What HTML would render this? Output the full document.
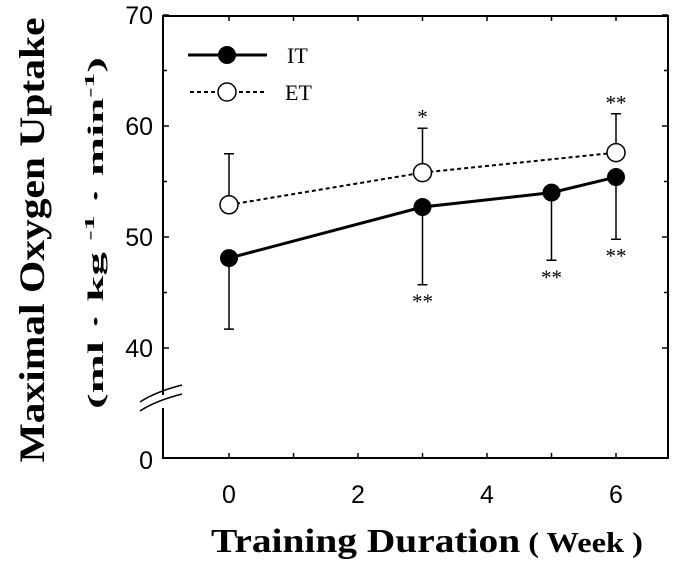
<!DOCTYPE html>
<html><head><meta charset="utf-8"><style>
body{margin:0;background:#fff}
svg{display:block;font-family:"Liberation Sans",sans-serif}
</style></head><body>
<svg id="chart" width="685" height="562" viewBox="0 0 685 562">
<g id="axes"></g><g id="series"></g>
<text x="44" y="240" transform="rotate(-90 44 240)" text-anchor="middle" font-family="Liberation Serif" font-weight="bold" font-size="36" textLength="445" lengthAdjust="spacingAndGlyphs">Maximal Oxygen Uptake</text>
<text x="103" y="233" transform="rotate(-90 103 233)" text-anchor="middle" font-family="Liberation Serif" font-weight="bold" font-size="22" textLength="352" lengthAdjust="spacingAndGlyphs">(ml · kg <tspan font-size="14" dy="-9">-1</tspan><tspan dy="9"> · min</tspan><tspan font-size="14" dy="-9">-1</tspan><tspan dy="9">)</tspan></text>
<text x="427" y="552" text-anchor="middle" font-family="Liberation Serif" font-weight="bold" font-size="34" textLength="432" lengthAdjust="spacingAndGlyphs">Training Duration<tspan font-size="28"> ( Week )</tspan></text>
<g>
<line x1="188" y1="55" x2="267" y2="55" stroke="#000" stroke-width="3"/>
<circle cx="227" cy="55" r="9" fill="#000"/>
<text x="287" y="63" font-family="Liberation Serif" font-size="22">IT</text>
<line x1="190" y1="92" x2="267" y2="92" stroke="#000" stroke-width="2" stroke-dasharray="4,3"/>
<circle cx="227" cy="92" r="9" fill="#fff" stroke="#000" stroke-width="1.5"/>
<text x="285" y="100" font-family="Liberation Serif" font-size="22">ET</text>
</g>
</svg>
<script>
const weeksIT=[0,3,5,6];
const valuesIT=[48.1,52.7,54.0,55.4];
const errIT=[6.4,7.0,6.1,5.6];
const sigIT=["","**","**","**"];
const weeksET=[0,3,6];
const valuesET=[52.9,55.8,57.6];
const errET=[4.6,4.0,3.5];
const sigET=["","*","**"];
const yTicks=[40,50,60,70];
const xTicks=[0,2,4,6];
const NS="http://www.w3.org/2000/svg";
const L=163,R=668,T=16,B=458;
function xs(w){return 229+w*64.5;}
function ys(v){return 348-(v-40)*11.1;}
function mk(p,tag,at){const e=document.createElementNS(NS,tag);for(const k in at)e.setAttribute(k,at[k]);p.appendChild(e);return e;}
const ax=document.getElementById('axes'),se=document.getElementById('series');
const st={stroke:'#000','stroke-width':2,fill:'none'};
let f=mk(ax,'path',Object.assign({d:`M${L},395 V${T} H${R} V${B} H${L} V408`},st));


let br=mk(ax,'path',{d:`M140,402 Q155,392 182,385 M140,411 Q155,401 182,394`,stroke:'#000','stroke-width':1.5,fill:'none'});


for(let v=40;v<=70;v+=5){const y=ys(v);mk(ax,'line',{x1:L,x2:L+(v%10?4:6),y1:y,y2:y,stroke:'#000','stroke-width':1.5});mk(ax,'line',{x1:R,x2:R-(v%10?4:6),y1:y,y2:y,stroke:'#000','stroke-width':1.5});}
for(let w=0;w<=6;w++){const x=xs(w);mk(ax,'line',{x1:x,x2:x,y1:B,y2:B-5,stroke:'#000','stroke-width':1.5});mk(ax,'line',{x1:x,x2:x,y1:T,y2:T+5,stroke:'#000','stroke-width':1.5});}
yTicks.forEach(v=>{const t=mk(ax,'text',{x:153,y:ys(v)+9,'text-anchor':'end','font-size':25});t.textContent=v;

});
let z=mk(ax,'text',{x:153,y:B+11,'text-anchor':'end','font-size':25});z.textContent='0';


xTicks.forEach(w=>{const t=mk(ax,'text',{x:xs(w),y:503,'text-anchor':'middle','font-size':25});t.textContent=w;

});
weeksIT.forEach((w,i)=>{const x=xs(w);const l=mk(se,'path',{d:`M${x},${ys(valuesIT[i])} V${ys(valuesIT[i]-errIT[i])} M${x-5},${ys(valuesIT[i]-errIT[i])} H${x+5}`,stroke:'#000','stroke-width':1.5,fill:'none'});


if(sigIT[i]){const t=mk(se,'text',{x:x,y:ys(valuesIT[i]-errIT[i])+24,'text-anchor':'middle','font-size':21,'font-family':'Liberation Serif'});t.textContent=sigIT[i];

}});
weeksET.forEach((w,i)=>{const x=xs(w);const l=mk(se,'path',{d:`M${x},${ys(valuesET[i])} V${ys(valuesET[i]+errET[i])} M${x-5},${ys(valuesET[i]+errET[i])} H${x+5}`,stroke:'#000','stroke-width':1.5,fill:'none'});


if(sigET[i]){const t=mk(se,'text',{x:x,y:ys(valuesET[i]+errET[i])-4,'text-anchor':'middle','font-size':21,'font-family':'Liberation Serif'});t.textContent=sigET[i];

}});
const lI=mk(se,'polyline',{points:weeksIT.map((w,i)=>xs(w)+','+ys(valuesIT[i])).join(' '),stroke:'#000','stroke-width':3,fill:'none'});


const lE=mk(se,'polyline',{points:weeksET.map((w,i)=>xs(w)+','+ys(valuesET[i])).join(' '),stroke:'#000','stroke-width':2,fill:'none','stroke-dasharray':'4,3'});


weeksIT.forEach((w,i)=>{const c=mk(se,'circle',{cx:xs(w),cy:ys(valuesIT[i]),r:9,fill:'#000'});

});
weeksET.forEach((w,i)=>{const c=mk(se,'circle',{cx:xs(w),cy:ys(valuesET[i]),r:9,fill:'#fff',stroke:'#000','stroke-width':1.5});

});
</script>
</body></html>
